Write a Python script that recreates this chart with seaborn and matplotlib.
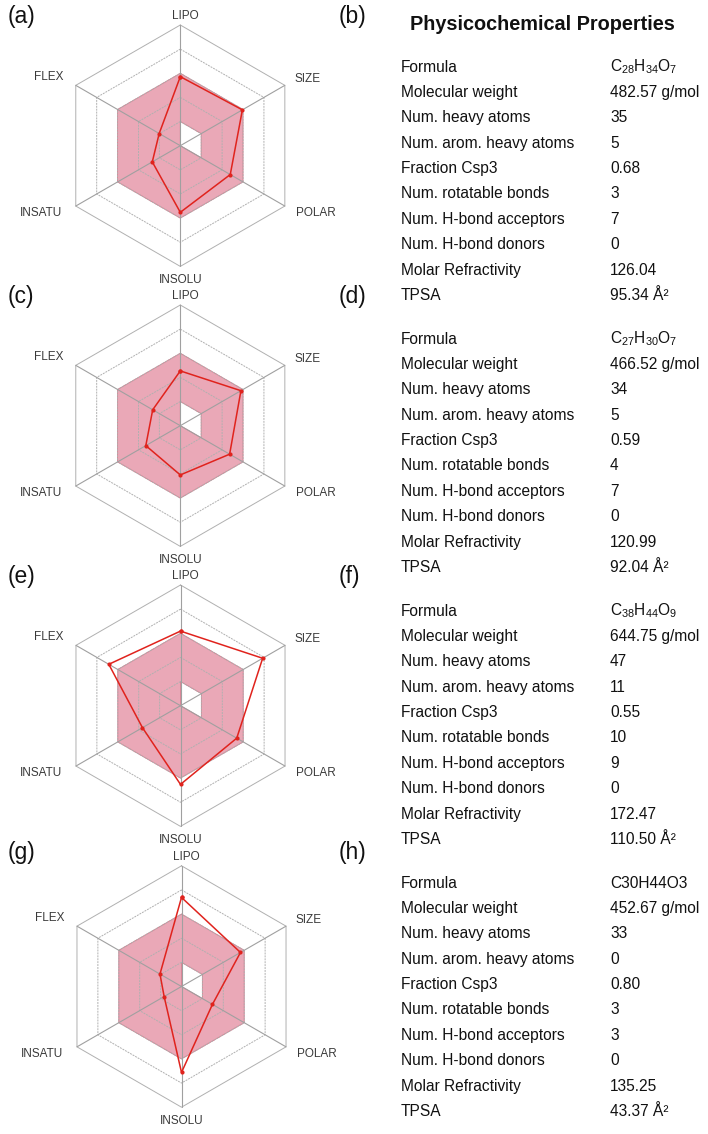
import numpy as np
import matplotlib.pyplot as plt
import seaborn as sns

# =========================
# Dados
# =========================
radar_axes = ["LIPO", "SIZE", "POLAR", "INSOLU", "INSATU", "FLEX"]

radar_a = [2.86, 2.97, 2.39, 2.76, 1.34, 1.01]
radar_c = [2.27, 2.90, 2.36, 2.04, 1.65, 1.32]
radar_e = [3.09, 3.93, 2.69, 3.26, 1.82, 3.43]
radar_g = [3.69, 2.82, 1.48, 3.56, 0.83, 1.03]

# faixa ótima (área rosa)
optimal_upper = [3, 3, 3, 3, 3, 3]
optimal_lower = [1, 1, 1, 0, 0, 0]
ring_levels = [1, 2, 3, 4, 5]

prop_names = ["Formula", "Molecular weight", "Num. heavy atoms",
              "Num. arom. heavy atoms", "Fraction Csp3", "Num. rotatable bonds",
              "Num. H-bond acceptors", "Num. H-bond donors",
              "Molar Refractivity", "TPSA"]

props_b = [r"C$_{28}$H$_{34}$O$_{7}$", "482.57 g/mol", "35", "5", "0.68", "3",
           "7", "0", "126.04", "95.34 Å²"]
props_d = [r"C$_{27}$H$_{30}$O$_{7}$", "466.52 g/mol", "34", "5", "0.59", "4",
           "7", "0", "120.99", "92.04 Å²"]
props_f = [r"C$_{38}$H$_{44}$O$_{9}$", "644.75 g/mol", "47", "11", "0.55", "10",
           "9", "0", "172.47", "110.50 Å²"]
props_h = ["C30H44O3", "452.67 g/mol", "33", "0", "0.80", "3",
           "3", "0", "135.25", "43.37 Å²"]

radar_panels = ["(a)", "(c)", "(e)", "(g)"]
table_panels = ["(b)", "(d)", "(f)", "(h)"]

# =========================
# Estilo
# =========================
sns.set_theme(style="white")
plt.rcParams["font.family"] = ["Liberation Sans", "DejaVu Sans"]
plt.rcParams["mathtext.fontset"] = "custom"
plt.rcParams["mathtext.rm"] = "Liberation Sans"
plt.rcParams["mathtext.it"] = "Liberation Sans:italic"
plt.rcParams["mathtext.bf"] = "Liberation Sans:bold"
plt.rcParams["mathtext.default"] = "rm"

W, H = 708, 1134
fig = plt.figure(figsize=(W / 100, H / 100), dpi=100)

theta = np.deg2rad(np.arange(6) * 60.0)
theta_c = np.append(theta, theta[0])

# deslocamento dos rótulos em pixels (relativo ao vértice externo)
label_offsets = [(5, 9), (23, 6), (31, -7), (0, -14), (-35, -7), (-27, 8)]

grid_col = "#a0a0a0"
fill_col = "#eaa8b7"
edge_col = "#d8798c"
red = "#e0231d"


def closed(vals):
    return list(vals) + [vals[0]]


def draw_radar(cx, cy, values, rad=120.7):
    ax = fig.add_axes([(cx - rad) / W, 1 - (cy + rad) / H, 2 * rad / W, 2 * rad / H],
                      projection="polar")
    ax.set_theta_zero_location("N")
    ax.set_theta_direction(-1)
    ax.set_ylim(0, 5)
    ax.axis("off")

    # área ótima
    ax.fill(theta_c, closed(optimal_upper), color=fill_col, lw=0, zorder=1)
    ax.plot(theta_c, closed(optimal_upper), color=edge_col, lw=0.6, zorder=1.2)
    ax.fill(theta_c, closed(optimal_lower), color="white", lw=0, zorder=1.1)
    ax.plot(theta_c, closed(optimal_lower), color=edge_col, lw=0.6, zorder=1.2)

    # grade hexagonal
    for lv in ring_levels:
        ax.plot(theta_c, [lv] * 7, color="#b0b0b0", lw=0.7,
                ls=(0, (2, 1)) if lv < 5 else "-", zorder=2, clip_on=False)
    for t in theta:
        ax.plot([t, t], [0, 5], color=grid_col, lw=0.8, zorder=2, clip_on=False)

    # propriedades do composto
    sns.lineplot(x=theta_c, y=closed(values), ax=ax, sort=False, estimator=None,
                 color=red, lw=1.1, marker="o", markersize=3,
                 markeredgewidth=0, zorder=3)
    ax.set_xlabel("")
    ax.set_ylabel("")

    for t, name, off in zip(theta, radar_axes, label_offsets):
        ax.annotate(name, xy=(t, 5), xytext=off, textcoords="offset pixels",
                    ha="center", va="center", fontsize=8.5, color="#3a3a3a",
                    annotation_clip=False)
    return ax


def draw_table(y0, values, dy=25.4):
    for i, (name, val) in enumerate(zip(prop_names, values)):
        y = 1 - (y0 + i * dy) / H
        fig.text(401 / W, y, name, ha="left", va="center", fontsize=11.2, color="#111111")
        fig.text(610 / W, y, val, ha="left", va="center", fontsize=11.2, color="#111111")


centers_x = [180.3, 180.3, 180.5, 181.5]
centers_y = [145.7, 425.7, 705.7, 986.5]
radar_data = [radar_a, radar_c, radar_e, radar_g]
table_data = [props_b, props_d, props_f, props_h]
table_y0 = [67, 339, 611, 883]
letter_y = [17, 296, 576, 853]

for i in range(4):
    draw_radar(centers_x[i], centers_y[i], radar_data[i])
    draw_table(table_y0[i], table_data[i])
    fig.text(8 / W, 1 - letter_y[i] / H, radar_panels[i], ha="left", va="center",
             fontsize=16.5, color="#111111")
    fig.text(339 / W, 1 - letter_y[i] / H, table_panels[i], ha="left", va="center",
             fontsize=16.5, color="#111111")

fig.text(542 / W, 1 - 25 / H, "Physicochemical Properties", ha="center", va="center",
         fontsize=14.3, fontweight="bold", color="#111111")

fig.savefig("out.png", dpi=100)
